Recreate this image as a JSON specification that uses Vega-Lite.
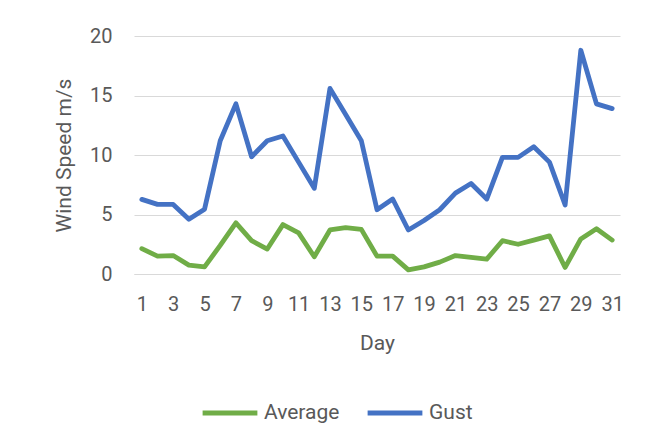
{
  "$schema": "https://vega.github.io/schema/vega-lite/v6.json",
  "width": 486,
  "height": 238,
  "autosize": {"type": "none"},
  "padding": {"left": 134, "top": 36, "right": 34, "bottom": 174},
  "background": "white",
  "data": {"values": [
    {"day":1,"series":"Average","speed":2.13},{"day":2,"series":"Average","speed":1.5},{"day":3,"series":"Average","speed":1.55},{"day":4,"series":"Average","speed":0.75},{"day":5,"series":"Average","speed":0.6},{"day":6,"series":"Average","speed":2.4},{"day":7,"series":"Average","speed":4.3},{"day":8,"series":"Average","speed":2.8},{"day":9,"series":"Average","speed":2.1},{"day":10,"series":"Average","speed":4.15},{"day":11,"series":"Average","speed":3.45},{"day":12,"series":"Average","speed":1.45},{"day":13,"series":"Average","speed":3.7},{"day":14,"series":"Average","speed":3.9},{"day":15,"series":"Average","speed":3.75},{"day":16,"series":"Average","speed":1.5},{"day":17,"series":"Average","speed":1.5},{"day":18,"series":"Average","speed":0.35},{"day":19,"series":"Average","speed":0.6},{"day":20,"series":"Average","speed":1.0},{"day":21,"series":"Average","speed":1.55},{"day":22,"series":"Average","speed":1.4},{"day":23,"series":"Average","speed":1.25},{"day":24,"series":"Average","speed":2.8},{"day":25,"series":"Average","speed":2.5},{"day":26,"series":"Average","speed":2.85},{"day":27,"series":"Average","speed":3.2},{"day":28,"series":"Average","speed":0.55},{"day":29,"series":"Average","speed":2.95},{"day":30,"series":"Average","speed":3.8},{"day":31,"series":"Average","speed":2.85},
    {"day":1,"series":"Gust","speed":6.27},{"day":2,"series":"Gust","speed":5.85},{"day":3,"series":"Gust","speed":5.85},{"day":4,"series":"Gust","speed":4.6},{"day":5,"series":"Gust","speed":5.45},{"day":6,"series":"Gust","speed":11.2},{"day":7,"series":"Gust","speed":14.3},{"day":8,"series":"Gust","speed":9.85},{"day":9,"series":"Gust","speed":11.2},{"day":10,"series":"Gust","speed":11.6},{"day":11,"series":"Gust","speed":9.4},{"day":12,"series":"Gust","speed":7.2},{"day":13,"series":"Gust","speed":15.6},{"day":14,"series":"Gust","speed":13.4},{"day":15,"series":"Gust","speed":11.2},{"day":16,"series":"Gust","speed":5.4},{"day":17,"series":"Gust","speed":6.3},{"day":18,"series":"Gust","speed":3.7},{"day":19,"series":"Gust","speed":4.5},{"day":20,"series":"Gust","speed":5.4},{"day":21,"series":"Gust","speed":6.8},{"day":22,"series":"Gust","speed":7.6},{"day":23,"series":"Gust","speed":6.3},{"day":24,"series":"Gust","speed":9.8},{"day":25,"series":"Gust","speed":9.8},{"day":26,"series":"Gust","speed":10.7},{"day":27,"series":"Gust","speed":9.4},{"day":28,"series":"Gust","speed":5.8},{"day":29,"series":"Gust","speed":18.8},{"day":30,"series":"Gust","speed":14.3},{"day":31,"series":"Gust","speed":13.9}
  ]},
  "mark": {"type": "line", "strokeWidth": 4.8, "strokeCap": "round", "strokeJoin": "round"},
  "encoding": {
    "x": {
      "field": "day", "type": "ordinal",
      "scale": {"type": "point", "padding": 0.5},
      "axis": {
        "title": "Day",
        "values": [1,3,5,7,9,11,13,15,17,19,21,23,25,27,29,31],
        "labelAngle": 0,
        "ticks": false,
        "tickSize": 0,
        "labelPadding": 20,
        "titlePadding": 18,
        "domainColor": "#d9d9d9",
        "grid": false
      }
    },
    "y": {
      "field": "speed", "type": "quantitative",
      "scale": {"domain": [0, 20], "nice": false},
      "axis": {
        "title": "Wind Speed m/s",
        "values": [0, 5, 10, 15, 20],
        "ticks": false,
        "tickSize": 0,
        "domain": false,
        "labelPadding": 22,
        "titlePadding": 15,
        "gridColor": "#d9d9d9",
        "gridWidth": 1.2
      }
    },
    "color": {
      "field": "series", "type": "nominal",
      "scale": {"domain": ["Average", "Gust"], "range": ["#70ad47", "#4472c4"]},
      "legend": {
        "title": null,
        "orient": "none",
        "direction": "horizontal",
        "legendX": 66,
        "legendY": 347,
        "symbolType": "stroke",
        "symbolSize": 3000,
        "symbolStrokeWidth": 5,
        "labelOffset": 4,
        "columnPadding": 17
      }
    }
  },
  "config": {
    "view": {"stroke": null},
    "font": "Roboto",
    "axis": {
      "labelFont": "Roboto", "labelFontSize": 20, "labelColor": "#595959",
      "titleFont": "Roboto", "titleFontSize": 21, "titleColor": "#595959", "titleFontWeight": "normal"
    },
    "legend": {"labelFont": "Roboto", "labelFontSize": 21, "labelColor": "#595959"}
  }
}
